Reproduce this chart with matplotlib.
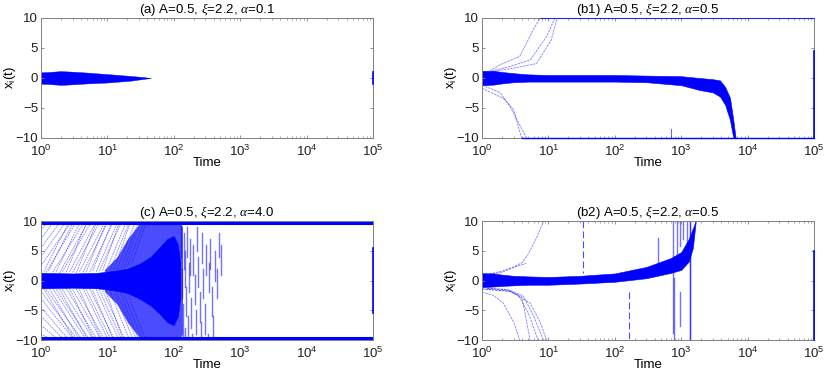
import numpy as np
import matplotlib
matplotlib.use('Agg')
import matplotlib.pyplot as plt
from matplotlib.ticker import LogLocator, NullFormatter

plt.rcParams['font.family'] = ['Liberation Sans', 'DejaVu Sans']
plt.rcParams['mathtext.fontset'] = 'custom'
plt.rcParams['mathtext.rm'] = 'Liberation Sans'
plt.rcParams['mathtext.it'] = 'Liberation Serif:italic'
plt.rcParams['font.size'] = 9.5

BLUE = '#0000ff'

# ---------------- (a) alpha=0.1 : band shrinks to zero
a_t  = [1, 1.3, 2, 3, 5, 10, 22, 35, 45]
a_hi = [0.95, 1.0, 1.15, 1.05, 0.9, 0.65, 0.35, 0.15, 0.0]
a_lo = [-0.95, -1.0, -1.15, -1.05, -0.9, -0.75, -0.45, -0.15, 0.0]
a_edge = [-1.0, 1.0]          # segment at t=1e5

# ---------------- (b1) alpha=0.5 : band drifts down to -10
b1_t  = [1, 1.5, 2, 3, 5, 10, 30, 100, 300, 1000, 1900, 3000, 3850, 4600, 5430, 6100, 6600]
b1_hi = [1.2, 1.2, 1.0, 0.8, 0.6, 0.5, 0.5, 0.5, 0.4, 0.3, 0.0, -0.2, -0.4, -1.5, -3.3, -7.0, -10]
b1_lo = [-1.2, -1.1, -0.9, -0.7, -0.6, -0.6, -0.6, -0.6, -0.7, -1.2, -2.0, -2.4, -3.1, -4.5, -7.0, -10, -10]
b1_up = [([1.3, 1.87, 3.7, 5.9, 7.5], [1.2, 2.2, 3.6, 8.0, 10]),
         ([1.4, 2.6, 5.3, 9.4, 12.6], [1.2, 1.9, 3.0, 6.9, 10]),
         ([1.5, 2.9, 6.6, 11, 13.6], [1.1, 1.6, 2.4, 6.3, 10])]
b1_dn = [([1, 2.1, 3.0, 3.95], [-1.7, -3.4, -5.3, -10]),
         ([1, 1.87, 2.6, 4.7], [-1.2, -2.4, -4.6, -10])]
b1_top_from = 7.5
b1_bot_from = 3.95
b1_edge = [-10, 4.5]
b1_spike = (710, -10, -8.5)

# ---------------- (c) alpha=4.0 : trajectories fly to +-10
c_core_t  = [1, 3, 7, 12, 20, 30, 45, 60, 80, 100, 115, 125]
c_core_hi = [1.3, 1.2, 1.3, 1.6, 2.0, 2.8, 4.0, 5.5, 7.0, 7.5, 6.0, 3.0]
c_core_lo = [-1.3, -1.2, -1.3, -1.6, -2.1, -3.0, -4.2, -5.5, -7.0, -7.5, -6.0, -3.0]
c_cloud_t  = [9, 14, 20, 30, 45, 70, 100, 120, 135]
c_cloud_hi = [1.8, 4, 7, 9.5, 10, 10, 10, 10, 9]
c_cloud_lo = [-1.8, -4, -7, -9.5, -10, -10, -10, -10, -9]
c_up_t0 = [1, 1, 1, 1, 1, 1.1, 1.2, 1.3, 1.5, 1.7, 1.9, 2.1, 2.4, 2.7, 3.0, 3.4,
           3.8, 4.3, 4.8, 5.4, 6.0, 6.8, 7.6, 8.5, 9.5, 11, 12.5, 14, 16, 18, 20, 23]
c_up_y0 = [8.5, 7, 5.5, 4, 2.5, 1.5, 1.4, 1.6, 1.4, 1.5, 1.3, 1.5, 1.4, 1.5, 1.4, 1.3,
           1.5, 1.4, 1.5, 1.4, 1.6, 1.5, 1.6, 1.7, 1.6, 1.8, 1.9, 2.0, 2.1, 2.3, 2.4, 2.6]
c_up_t1 = [1.2, 1.5, 1.9, 2.3, 2.8, 2.6, 3.3, 3.0, 4.4, 3.8, 5.0, 5.6, 4.8, 6.6, 7.5, 6.8,
           9.0, 10, 9.5, 12, 11.5, 14, 16, 15, 19, 21, 22, 26, 29, 31, 35, 38]
c_dn_t0 = [1, 1, 1, 1, 1, 1, 1.1, 1.2, 1.35, 1.5, 1.7, 1.9, 2.1, 2.4, 2.7, 3.0,
           3.4, 3.8, 4.3, 4.8, 5.4, 6.0, 6.8, 7.6, 8.5, 9.5, 11, 12.5, 14, 16, 18, 21]
c_dn_y0 = [-9, -7.5, -6, -4.5, -3, -1.8, -1.4, -1.5, -1.4, -1.3, -1.5, -1.4, -1.5, -1.3, -1.4, -1.5,
           -1.4, -1.5, -1.3, -1.5, -1.4, -1.6, -1.5, -1.6, -1.7, -1.8, -1.9, -2.0, -2.2, -2.3, -2.5, -2.7]
c_dn_t1 = [1.3, 1.7, 2.1, 2.5, 3.0, 3.4, 3.1, 4.0, 3.7, 4.6, 5.2, 4.9, 6.0, 6.8, 6.2, 7.8,
           8.8, 8.0, 10, 11, 12.5, 12, 14.5, 16, 18, 17, 21, 24, 27, 29, 33, 37]
c_dash_t  = [128, 132, 136, 140, 145, 150, 155, 160, 165, 170, 175, 180, 188, 195, 205, 215,
             225, 235, 245, 255, 265, 280, 295, 310, 325, 340, 355, 375, 395, 420, 450, 480, 520]
c_dash_y0 = [9.5, 2, -4, 8, -8, 5, -1, 9, -6, 3, 7, -3, -9, 6, 1, -5,
             9, 4, -2, -7, 8, 2, -4, 6, -9, 3, 7, -1, -6, 5, 2, 8, 6]
c_dash_y1 = [4, -3, -9.5, 2, -9.5, -1, -6, 4, -9.5, -2, 1, -8, -9.5, 1, -4, -9,
             5, -1, -7, -9.5, 3, -3, -9, 1, -9.5, -2, 2, -6, -9.5, 0, -3, 4, 1]
c_level = 9.7
c_edge = [-5.5, 5.5]

# ---------------- (b2) alpha=0.5 : band drifts up to +10
b2_t  = [1, 1.5, 2, 3, 5, 10, 30, 100, 300, 700, 1000, 1300, 1500, 1650]
b2_hi = [1.25, 1.2, 1.0, 0.8, 0.7, 0.6, 0.8, 1.2, 2.3, 3.8, 4.8, 7.0, 8.8, 10]
b2_lo = [-1.1, -1.0, -0.9, -0.8, -0.7, -0.7, -0.5, -0.2, 0.4, 1.3, 1.8, 3.2, 5.5, 9.8]
b2_up = [([1.3, 2, 3, 4, 5, 6.5, 8.5], [1.1, 1.6, 2.3, 3.0, 4.5, 7.0, 10]),
         ([1.3, 2, 3, 4.6], [1.0, 1.4, 2.2, 2.9])]
b2_dn = [([1, 1.5, 2.1, 3, 3.7], [-1.9, -2.5, -3.8, -7, -10]),
         ([1, 2.6, 4, 5.3], [-1.4, -1.8, -2.8, -10]),
         ([1.2, 2.3, 3.5, 5, 7.0], [-1.3, -1.5, -2.4, -5.5, -10]),
         ([1.2, 2.6, 4.2, 6, 8.4], [-1.3, -1.6, -2.6, -6, -10]),
         ([1.0, 2.7, 5.3, 7.5, 9.4], [-1.4, -1.8, -3.8, -7, -10])]
b2_dash_t  = [33, 165]
b2_dash_y0 = [10, -1.9]
b2_dash_y1 = [1.2, -10]
b2_spike_t  = [443, 745, 790, 870, 960, 960, 1070, 1230, 1350, 1380]
b2_spike_y0 = [7.1, 10, 0.5, 10, 10, -1.9, 10, 10, 10, 10]
b2_spike_y1 = [2.6, -8.9, -10, 4.3, 5.8, -7.7, 7.0, 6.5, -10, -10]
b2_edge = [-10, 5]


def style(ax, title):
    ax.set_xscale('log')
    ax.set_xlim(1, 1e5)
    ax.set_ylim(-10, 10)
    ax.set_yticks([-10, -5, 0, 5, 10])
    ax.xaxis.set_major_locator(LogLocator(base=10, numticks=10))
    ax.xaxis.set_minor_locator(LogLocator(base=10, subs=np.arange(2, 10), numticks=12))
    ax.xaxis.set_minor_formatter(NullFormatter())
    ax.tick_params(which='both', direction='in', top=True, right=True,
                   color='#808080', labelcolor='#202020', labelsize=9.5)
    ax.tick_params(which='major', length=2.5, width=0.6, pad=2)
    ax.tick_params(axis='x', which='major', pad=4)
    ax.tick_params(which='minor', length=1.3, width=0.5)
    for s in ax.spines.values():
        s.set_color('#808080')
        s.set_linewidth(0.7)
    ax.set_title(title, pad=1.5, fontsize=9.5)
    ax.set_xlabel('Time', labelpad=-1, fontsize=9.5)
    ax.set_ylabel(r'$\mathregular{x_i(t)}$', fontsize=9.5)
    ax.yaxis.set_label_coords(-0.068, 0.5)


def thin(ax, t, y, **kw):
    ax.plot(t, y, color=BLUE, lw=0.6, alpha=0.5, **kw)


def edge(ax, y):
    # trajectories sitting on the right frame at t=1e5
    ax.plot([1e5, 1e5], y, color=BLUE, lw=1.2, clip_on=False, zorder=3)


fig = plt.figure(figsize=(8.3, 3.75), dpi=100)
ax_a = fig.add_axes([0.0494, 0.632, 0.4, 0.32])
ax_b1 = fig.add_axes([0.5807, 0.632, 0.4, 0.32])
ax_c = fig.add_axes([0.0494, 0.0933, 0.4, 0.317])
ax_b2 = fig.add_axes([0.5807, 0.0933, 0.4, 0.317])

# (a)
ax_a.fill_between(a_t, a_lo, a_hi, color=BLUE, lw=0.3)
edge(ax_a, a_edge)
style(ax_a, r'(a) A=0.5, $\xi$=2.2, $\alpha$=0.1')

# (b1)
for t, y in b1_up + b1_dn:
    thin(ax_b1, t, y, ls=(0, (3, 1)))
ax_b1.plot([b1_top_from, 1e5], [10, 10], color=BLUE, lw=0.8, alpha=0.7,
           clip_on=False, zorder=3)
ax_b1.plot([b1_bot_from, 1e5], [-10, -10], color=BLUE, lw=1.0, clip_on=False, zorder=3)
ax_b1.fill_between(b1_t, b1_lo, b1_hi, color=BLUE, lw=0.4)
ax_b1.plot([b1_spike[0]] * 2, b1_spike[1:], color=BLUE, lw=0.8, alpha=0.6)
edge(ax_b1, b1_edge)
style(ax_b1, r'(b1) A=0.5, $\xi$=2.2, $\alpha$=0.5')

# (c)
ax_c.fill_between(c_cloud_t, c_cloud_lo, c_cloud_hi, color=BLUE, alpha=0.7, lw=0)
for t0, y0, t1 in zip(c_up_t0, c_up_y0, c_up_t1):
    thin(ax_c, [t0, t1], [y0, c_level], ls=(0, (2, 1)))
for t0, y0, t1 in zip(c_dn_t0, c_dn_y0, c_dn_t1):
    thin(ax_c, [t0, t1], [y0, -c_level], ls=(0, (2, 1)))
for t, y0, y1 in zip(c_dash_t, c_dash_y0, c_dash_y1):
    ax_c.plot([t, t], [y0, y1], color=BLUE, lw=1.0, alpha=0.55)
ax_c.fill_between(c_core_t, c_core_lo, c_core_hi, color=BLUE, lw=0.4)
ax_c.plot([1, 1e5], [c_level, c_level], color=BLUE, lw=2.2)
ax_c.plot([1, 1e5], [-c_level, -c_level], color=BLUE, lw=2.2)
edge(ax_c, c_edge)
style(ax_c, r'(c) A=0.5, $\xi$=2.2, $\alpha$=4.0')

# (b2)
for t, y in b2_up + b2_dn:
    thin(ax_b2, t, y, ls=(0, (3, 1)))
for t, y0, y1 in zip(b2_dash_t, b2_dash_y0, b2_dash_y1):
    ax_b2.plot([t, t], [y0, y1], color=BLUE, lw=0.8, alpha=0.7, ls=(0, (6, 3)))
for t, y0, y1 in zip(b2_spike_t, b2_spike_y0, b2_spike_y1):
    ax_b2.plot([t, t], [y0, y1], color=BLUE, lw=1.0, alpha=0.55)
ax_b2.fill_between(b2_t, b2_lo, b2_hi, color=BLUE, lw=0.4)
edge(ax_b2, b2_edge)
style(ax_b2, r'(b2) A=0.5, $\xi$=2.2, $\alpha$=0.5')

fig.savefig('out.png', dpi=100)
